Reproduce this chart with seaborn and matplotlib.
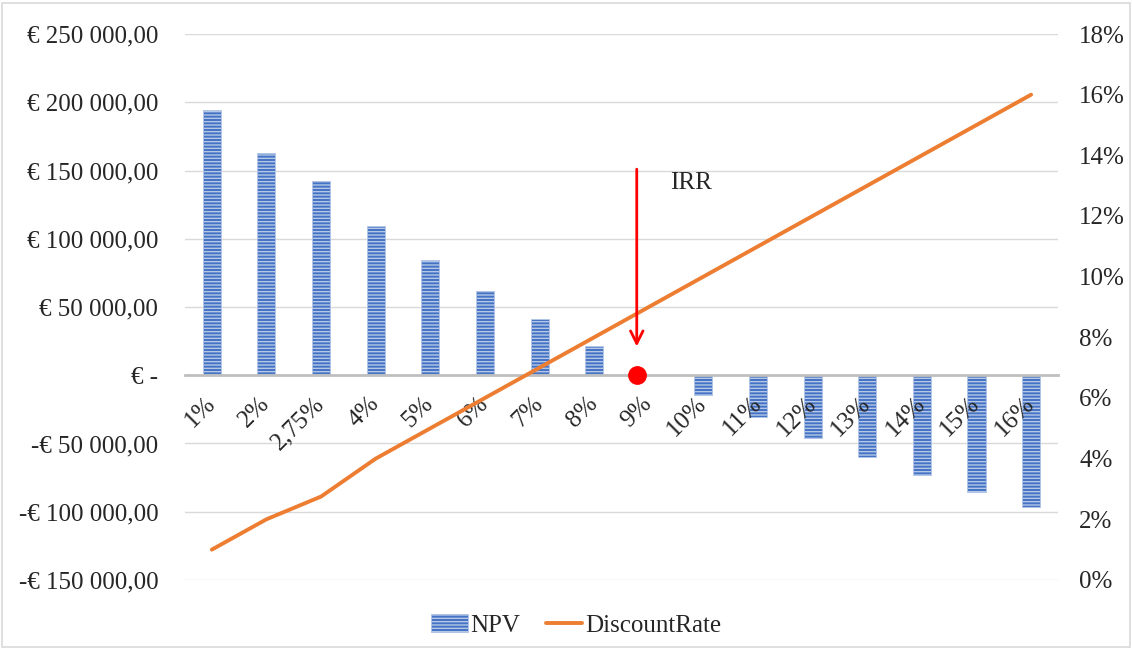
import numpy as np
import pandas as pd
import matplotlib
matplotlib.use("Agg")
import matplotlib.pyplot as plt
import seaborn as sns
from matplotlib.ticker import FuncFormatter, PercentFormatter
from matplotlib.patches import Patch, Rectangle
from matplotlib.lines import Line2D

# Data
rate_labels = ['1%', '2%', '2,75%', '4%', '5%', '6%', '7%', '8%', '9%',
               '10%', '11%', '12%', '13%', '14%', '15%', '16%']
npv = [194000, 163000, 142000, 109000, 84500, 61500, 41000, 21300, 0,
       -14700, -30800, -46200, -60100, -73300, -85800, -96800]
discount_rate = [0.01, 0.02, 0.0275, 0.04, 0.05, 0.06, 0.07, 0.08, 0.09,
                 0.10, 0.11, 0.12, 0.13, 0.14, 0.15, 0.16]
irr_pos = 7.78  # where the IRR dot sits on the category axis

df = pd.DataFrame({'rate': rate_labels, 'npv': npv, 'discount': discount_rate})
df['pos'] = np.arange(len(df))

sns.set_style("white")
plt.rcParams['font.family'] = ['Liberation Serif', 'DejaVu Serif']
plt.rcParams['hatch.linewidth'] = 1.0
fs = 18
orange = '#ed7d31'
bar_blue = '#4472c4'

fig = plt.figure(figsize=(11.32, 6.48), dpi=100)
ax = fig.add_axes([0.163, 0.105, 0.772, 0.8425])

sns.barplot(data=df, x='rate', y='npv', ax=ax, color=bar_blue, width=0.33,
            saturation=1, edgecolor='#b4c7e7', linewidth=0.6)
for b in ax.patches:
    b.set_hatch('-----')

ax.set_ylim(-150000, 250000)
ax.set_yticks(np.arange(-150000, 250001, 50000))
ax.set_xlim(-0.5, len(df) - 0.5)


def euro(v, _pos):
    if v == 0:
        return '€ -'
    s = f"{abs(v):,.2f}".replace(',', ' ').replace('.', ',')
    return ('-€ ' if v < 0 else '€ ') + s


ax.yaxis.set_major_formatter(FuncFormatter(euro))
ax.grid(axis='y', color='#d9d9d9', linewidth=1)
ax.set_axisbelow(True)
ax.xaxis.set_zorder(3)  # category labels over the bars
ax.set_xlabel('')
ax.set_ylabel('')
for side in ['left', 'right', 'top']:
    ax.spines[side].set_visible(False)
ax.spines['bottom'].set_position(('data', 0))
ax.spines['bottom'].set_color('#bfbfbf')
ax.spines['bottom'].set_linewidth(2)
ax.tick_params(axis='y', length=0, pad=19, labelsize=fs)
ax.tick_params(axis='x', length=0, pad=18, labelsize=fs)
for lab in ax.get_xticklabels():
    lab.set_rotation(45)
    lab.set_ha('right')
    lab.set_va('center')
    lab.set_rotation_mode('anchor')

ax2 = ax.twinx()
sns.lineplot(data=df, x='pos', y='discount', ax=ax2, color=orange,
             linewidth=2.8, legend=False)
ax2.set_ylim(0, 0.18)
ax2.set_yticks(np.arange(0, 0.181, 0.02))
ax2.yaxis.set_major_formatter(PercentFormatter(1.0, decimals=0))
ax2.tick_params(axis='y', length=0, pad=15, labelsize=fs)
ax2.set_ylabel('')
for side in ['left', 'right', 'top', 'bottom']:
    ax2.spines[side].set_visible(False)
ax2.grid(False)

# IRR marker and arrow
ax2.plot([irr_pos], [0], 'o', color='red', markersize=12.5,
         transform=ax.transData, zorder=5)
ax2.annotate('', xy=(irr_pos, 19000), xytext=(irr_pos, 153000),
             xycoords=ax.transData, textcoords=ax.transData,
             arrowprops=dict(arrowstyle='->,head_length=0.9,head_width=0.45',
                             color='red', lw=2), zorder=5)
ax2.text(irr_pos + 0.99, 141000, 'IRR', transform=ax.transData,
         ha='center', va='center', fontsize=fs)

handles = [Patch(facecolor=bar_blue, edgecolor='#b4c7e7', hatch='-----', linewidth=0.6),
           Line2D([0], [0], color=orange, linewidth=2.8)]
fig.legend(handles, ['NPV', 'DiscountRate'], loc='center',
           bbox_to_anchor=(0.509, 0.035), ncol=2, frameon=False,
           fontsize=fs, handlelength=1.45, handletextpad=0.12, columnspacing=1.0)

fig.patches.append(Rectangle((0.002, 0.002), 0.996, 0.994, transform=fig.transFigure,
                             fill=False, edgecolor='#d9d9d9', linewidth=1.2))

fig.savefig('out.png', dpi=100)
